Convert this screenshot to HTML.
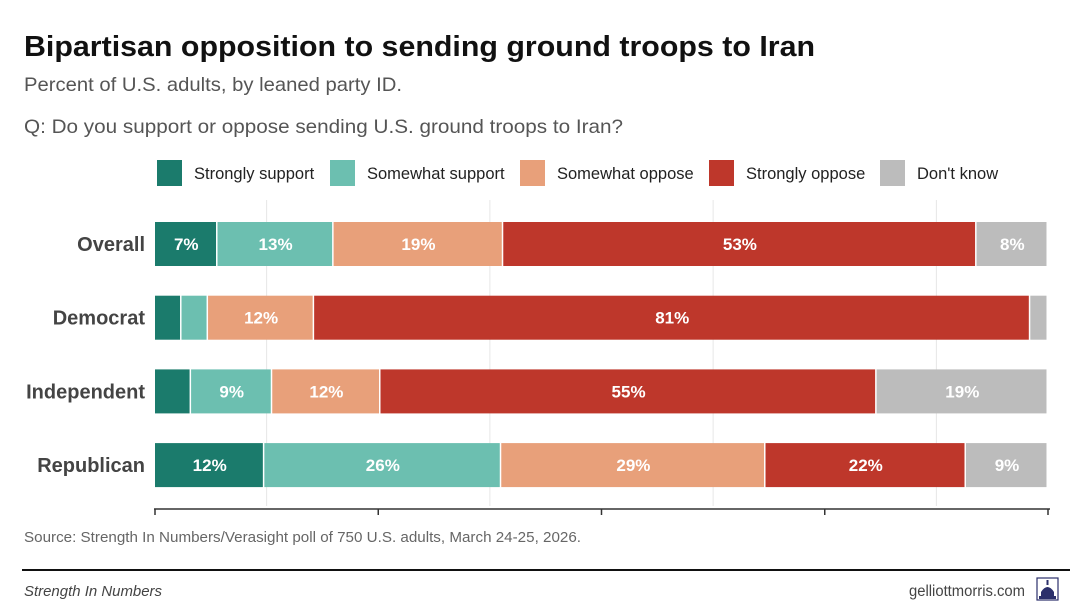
<!DOCTYPE html>
<html><head><meta charset="utf-8">
<style>
body{margin:0;background:#fff;font-family:"Liberation Sans",sans-serif;}
#wrap{position:relative;width:1092px;height:607px;overflow:hidden;}
svg text{font-family:"Liberation Sans",sans-serif;}
</style></head>
<body>
<div id="wrap">
<svg id="chart" width="1092" height="607">
<text x="24" y="56" font-size="29" font-weight="bold" fill="#111" textLength="791" lengthAdjust="spacingAndGlyphs">Bipartisan opposition to sending ground troops to Iran</text>
<text x="24" y="91" font-size="19.5" fill="#555" textLength="378" lengthAdjust="spacingAndGlyphs">Percent of U.S. adults, by leaned party ID.</text>
<text x="24" y="133" font-size="19.5" fill="#555" textLength="599" lengthAdjust="spacingAndGlyphs">Q: Do you support or oppose sending U.S. ground troops to Iran?</text>
<g id="legend"></g>
<g id="grid"></g>
<g id="bars"></g>
<g id="axis"></g>
<text x="24" y="542" font-size="14.5" fill="#666" textLength="557" lengthAdjust="spacingAndGlyphs">Source: Strength In Numbers/Verasight poll of 750 U.S. adults, March 24-25, 2026.</text>
<rect x="22" y="569" width="1048" height="2" fill="#111"/>
<text x="24" y="596" font-size="15" font-style="italic" fill="#444" textLength="138" lengthAdjust="spacingAndGlyphs">Strength In Numbers</text>
<text x="909" y="596" font-size="15.5" fill="#444" textLength="116" lengthAdjust="spacingAndGlyphs">gelliottmorris.com</text>
<g>
<rect x="1037" y="578" width="21" height="22" fill="#fff" stroke="#2b2f6b" stroke-width="1.2"/>
<path d="M1041 598 L1041 592 Q1047.5 582 1054 592 L1054 598 Z" fill="#2b2f6b"/>
<rect x="1046.5" y="580" width="2" height="5" fill="#2b2f6b"/>
<rect x="1039" y="596" width="17" height="3" fill="#2b2f6b"/>
</g>
</svg>
</div>
<script>
const categories=["Overall","Democrat","Independent","Republican"];
const seriesNames=["Strongly support","Somewhat support","Somewhat oppose","Strongly oppose","Don't know"];
const stronglySupport=[7,3,4,12];
const somewhatSupport=[13,3,9,26];
const somewhatOppose=[19,12,12,29];
const stronglyOppose=[53,81,55,22];
const dontKnow=[8,2,19,9];
const showLabel=[[1,1,1,1,1],[0,0,1,1,0],[0,1,1,1,1],[1,1,1,1,1]];
const ticks=[0,25,50,75,100];
const gridVals=[12.5,37.5,62.5,87.5];

const colors=["#1b7b6c","#6cbfb0","#e8a07a","#be372b","#bcbcbc"];
const NS="http://www.w3.org/2000/svg";
const X0=155,X1=1048;
const xs=v=>X0+(X1-X0)*v/100;
const rowY=i=>222+i*73.7;
const BH=44;
function mk(tag,attrs,parent){const e=document.createElementNS(NS,tag);for(const k in attrs)e.setAttribute(k,attrs[k]);parent.appendChild(e);return e;}
const series=[stronglySupport,somewhatSupport,somewhatOppose,stronglyOppose,dontKnow];

const lg=document.getElementById('legend');
const legX=[157,330,520,709,880];
seriesNames.forEach((n,i)=>{
 const r=mk('rect',{x:legX[i],y:160,width:25,height:26,fill:colors[i]},lg);
 
 
 const t=mk('text',{x:legX[i]+37,y:179,'font-size':16.5,fill:'#222'},lg);
 t.textContent=n;
 
 
});

const gg=document.getElementById('grid');
gridVals.forEach(v=>{
 const l=mk('line',{x1:xs(v),x2:xs(v),y1:200,y2:506,stroke:'#e6e6e6','stroke-width':1},gg);
 
 
});

const bg=document.getElementById('bars');
categories.forEach((c,i)=>{
 const y=rowY(i);
 const lab=mk('text',{x:145,y:y+BH/2+7,'font-size':20,'font-weight':'bold',fill:'#444','text-anchor':'end'},bg);
 lab.textContent=c;
 
 
 const total=series.reduce((s,a)=>s+a[i],0);
 let cum=0;
 series.forEach((a,j)=>{
  const v=a[i]*100/total;
  const xa=xs(cum),xb=xs(cum+v);
  const r=mk('rect',{x:xa,y:y,width:Math.max(0,xb-xa-1.5),height:BH,fill:colors[j]},bg);
  
  
  if(showLabel[i][j]){
   const t=mk('text',{x:(xa+xb)/2,y:y+BH/2+6,'font-size':17,'font-weight':'bold',fill:'#fff','text-anchor':'middle'},bg);
   t.textContent=a[i]+'%';
   
   
  }
  cum+=v;
 });
});

const ax=document.getElementById('axis');
const al=mk('line',{x1:X0-1,x2:X1+2,y1:509,y2:509,stroke:'#333','stroke-width':1.5},ax);


ticks.forEach(v=>{
 const t=mk('line',{x1:xs(v),x2:xs(v),y1:509,y2:515,stroke:'#333','stroke-width':1.5},ax);
 
 
});
</script>
</body></html>
